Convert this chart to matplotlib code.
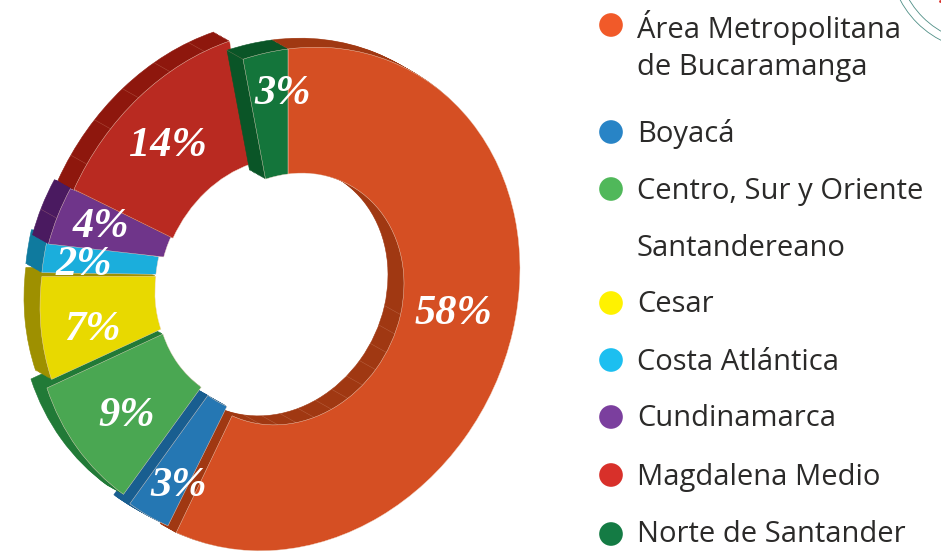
#Donut with fake 3D sides, each slice pulled a bit out of the ring
import matplotlib
matplotlib.use("Agg")
from matplotlib import pyplot as plt
from matplotlib.patches import Arc
from matplotlib.transforms import Affine2D
import numpy as np

# data
regions = ["Área Metropolitana\nde Bucaramanga", "Boyacá", "Centro, Sur y Oriente", "Cesar",
           "Costa Atlántica", "Cundinamarca", "Magdalena Medio", "Norte de Santander"]
shares = [58, 3, 9, 7, 2, 4, 14, 3]
labels = ["58%", "3%", "9%", "7%", "2%", "4%", "14%", "3%"]

# colours
face_colors = ["#D54F23", "#2577B3", "#4AA752", "#E8D900", "#1BAEDC", "#6F358A", "#B92A21", "#14753B"]
side_colors = ["#A03812", "#195E90", "#217A37", "#9E9000", "#0F7A9E", "#4A1A60", "#8E170D", "#0A5527"]
dot_colors = ["#F15A29", "#2884C6", "#50B85A", "#FFF200", "#1CBFF0", "#7B3F9E", "#D8302A", "#147B44"]

# slice placement in pixels: centre x, centre y, radius x, radius y, ring width
placement = [(288, 299, 232, 250, 0.5), (286, 287, 245, 255, 0.5), (279, 280, 244, 252, 0.5), (277, 276, 237, 240, 0.485),
             (277, 276, 237, 270, 0.485), (279, 270, 238, 225, 0.5), (272, 287, 226, 256, 0.5), (288, 299, 240, 250, 0.5)]
# stacking, low to high: blue side is under green, orange side is under the blue face
side_layer = [3, 0, 1, 6, 8, 10, 12, 14]
face_layer = [5, 4, 2, 7, 9, 11, 13, 15]
tilt = 7.4
depth = (-16, -9)
steps = 12

label_xy = [(453, 314), (179, 486), (127, 416), (92, 330), (84, 265), (101, 227), (168, 146), (283, 94)]
legend_y = [25, 132, 189, 303, 360, 417, 475, 534]
text_y = [46, 134, 191, 305, 362, 419, 477, 534]

fig = plt.figure(figsize=(9.41, 5.52), dpi=100)
ax = fig.add_axes([0, 0, 1, 1])


def slice_tf(i, shift=(0, 0)):
    cx, cy, rx, ry, _ = placement[i]
    return Affine2D().scale(rx, ry).skew_deg(0, tilt).scale(1, -1).translate(cx + shift[0], cy + shift[1])


def ring(colors, shift, layers, edge, lw):
    wedges, _ = ax.pie(shares, startangle=90, counterclock=False, colors=colors,
                       wedgeprops=dict(width=0.5, edgecolor=edge, linewidth=lw))
    for i, w in enumerate(wedges):
        w.set_width(placement[i][4])
        w.set_transform(slice_tf(i, shift) + ax.transData)
        w.set_zorder(layers[i])
        if edge == "none":
            w.set_edgecolor(colors[i])


def facets(i, thetas, r):
    # thin seams on the side walls
    for th in np.radians(thetas):
        x, y = slice_tf(i).transform((r * np.sin(th), r * np.cos(th)))
        ax.plot([x, x + depth[0]], [y, y + depth[1]], color="#D89880", lw=0.3, alpha=0.5,
                zorder=side_layer[i] + 0.5)


for s in range(1, steps + 1):
    ring(side_colors, (depth[0] * s / steps, depth[1] * s / steps), side_layer, "none", 0.4)
ring(face_colors, (0, 0), face_layer, "#F3D9C8", 0.3)

facets(0, np.arange(104, 200, 9), 0.5)
facets(6, np.arange(305, 350, 9.4), 1.0)
facets(5, [291], 1.0)
facets(7, [349.2], 1.0)
facets(0, [0], 1.0)

ax.set_aspect("auto")
ax.set_xlim(0, 941)
ax.set_ylim(552, 0)
ax.axis("off")

for lab, (x, y) in zip(labels, label_xy):
    ax.text(x, y, lab, color="white", fontsize=30.5, family="Liberation Serif", weight="bold", style="italic",
            ha="center", va="center", zorder=30)

# legend
ax.scatter([611] * len(dot_colors), legend_y, s=290, c=dot_colors, linewidths=0, zorder=30)
for reg, y in zip(regions, text_y):
    ax.text(637, y, reg, color="#2B2A29", fontsize=21, family="Open Sans", ha="left", va="center",
            linespacing=1.32, zorder=30)
ax.text(637, 248, "Santandereano", color="#2B2A29", fontsize=21, family="Open Sans", ha="left", va="center", zorder=30)

# corner of a seal that is cut off in the page
ax.add_patch(Arc((985, -45), 192, 192, color="#4F8F86", lw=0.6))
ax.add_patch(Arc((985, -45), 176, 176, color="#4F8F86", lw=0.6))
ax.scatter([940], [1], s=4, c="#D8302A", linewidths=0)

fig.savefig("out.png", dpi=100)
